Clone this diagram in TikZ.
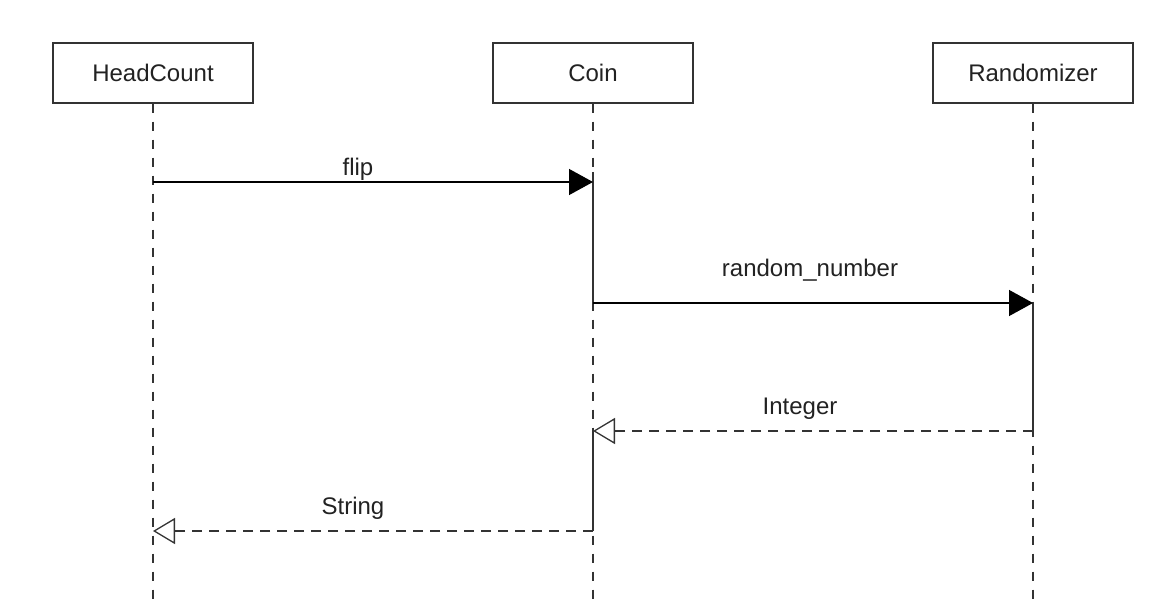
\documentclass[tikz,border=0pt]{standalone}
\usepackage{fontspec}
\setmainfont{Liberation Sans}
\usetikzlibrary{arrows.meta}
\definecolor{ln}{HTML}{333333}
\definecolor{tx}{HTML}{222222}
\tikzset{
  actor/.style={draw=ln, line width=1.2pt, fill=white, minimum width=200pt, minimum height=60pt, inner sep=0pt, text=tx, font=\fontsize{24}{28}\selectfont},
  lifeline/.style={draw=ln, line width=1.2pt, dash pattern=on 9pt off 9pt},
  actbar/.style={draw=ln, line width=1.5pt},
  call/.style={draw=black, line width=1.3pt, -{Triangle[length=24pt,width=26pt]}},
  reply/.style={draw=ln, line width=1.3pt, dash pattern=on 10pt off 7pt, -{Triangle[open,length=22pt,width=26pt]}},
  lbl/.style={font=\fontsize{24}{28}\selectfont, text=tx, inner sep=0pt}
}
\begin{document}
\begin{tikzpicture}[x=1pt,y=-1pt]
\useasboundingbox (0,0) rectangle (1168,604);
% lifelines
\coordinate (hcE) at (153,604);
\coordinate (cnE) at (593,604);
\coordinate (rdE) at (1033,604);
\node[actor] (hc) at (153,73) {HeadCount};
\node[actor] (cn) at (593,73) {Coin};
\node[actor] (rd) at (1033,73) {Randomizer};
\draw[lifeline] (hc.south) -- (hcE);
\draw[lifeline] (cn.south) -- (cnE);
\draw[lifeline] (rd.south) -- (rdE);
% activation segments
\coordinate (c1a) at (593,172);
\coordinate (c1b) at (593,303);
\coordinate (r1a) at (1033,303);
\coordinate (r1b) at (1033,431);
\coordinate (c2a) at (593,431);
\coordinate (c2b) at (593,531);
\draw[actbar] (c1a) -- (c1b);
\draw[actbar] (r1a) -- (r1b);
\draw[actbar] (c2a) -- (c2b);
% messages
\coordinate (m1s) at (153,182);
\coordinate (m1e) at (593,182);
\coordinate (m4e) at (153,531);
\draw[call] (m1s) -- (m1e);
\node[lbl] (lflip) at (358,169) {flip};
\draw[call] (c1b) -- (r1a);
\node[lbl] (lrand) at (810,270) {random\_number};
\draw[reply] (r1b) -- (c2a);
\node[lbl] (lint) at (800,409) {Integer};
\draw[reply] (c2b) -- (m4e);
\node[lbl] (lstr) at (353,508) {String};
\end{tikzpicture}
\end{document}
